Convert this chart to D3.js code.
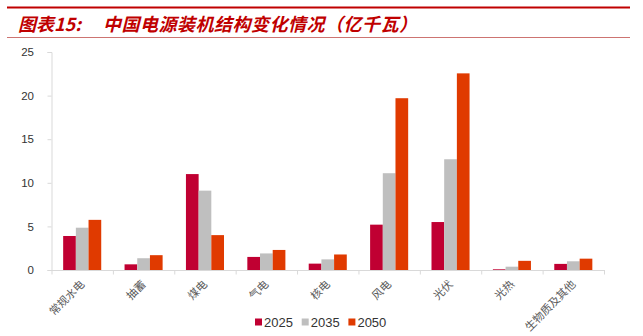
<!DOCTYPE html>
<html>
<head>
<meta charset="utf-8">
<script src="https://cdn.jsdelivr.net/npm/d3@7"></script>
<style>
  html, body { margin: 0; padding: 0; background: #fff; }
  svg { display: block; }
</style>
</head>
<body>
<svg id="chart" width="643" height="336"></svg>
<script>
// Installed capacity by source, 亿千瓦
const categories = ["常规水电", "抽蓄", "煤电", "气电", "核电", "风电", "光伏", "光热", "生物质及其他"];
const seriesNames = ["2025", "2035", "2050"];
const values2025 = [3.9, 0.65, 11.0, 1.5, 0.73, 5.2, 5.5, 0.08, 0.7];
const values2035 = [4.85, 1.35, 9.1, 1.9, 1.22, 11.1, 12.7, 0.38, 1.0];
const values2050 = [5.75, 1.7, 4.0, 2.3, 1.78, 19.7, 22.55, 1.05, 1.3];
const yTicks = [0, 5, 10, 15, 20, 25];

const seriesValues = [values2025, values2035, values2050];
const colors = ["#C00032", "#BFBFBF", "#E03A00"];

const svg = d3.select("#chart");

// Header: red rule, title, thin rule
svg.append("line").attr("x1", 7).attr("x2", 630).attr("y1", 7.5).attr("y2", 7.5)
  .attr("stroke", "#C00000").attr("stroke-width", 2.2);
svg.append("line").attr("x1", 7).attr("x2", 630).attr("y1", 37.5).attr("y2", 37.5)
  .attr("stroke", "#C0504D").attr("stroke-width", 0.8);

const title = svg.append("text")
  .attr("y", 30.5)
  .attr("fill", "#C00000")
  .attr("font-family", "'Noto Sans CJK SC', sans-serif")
  .attr("font-weight", "bold")
  .attr("font-style", "italic")
  .attr("font-size", 18);
title.append("tspan").attr("x", 18).text("图表15:");
title.append("tspan").attr("x", 103).attr("letter-spacing", 0.5).text("中国电源装机结构变化情况（亿千瓦）");

// Plot area
const x0 = 51.5, x1 = 604, yBase = 270, yTop = 52;

const x = d3.scaleBand().domain(categories).range([x0, x1]).paddingInner(0).paddingOuter(0);
const groupW = x.bandwidth() * 0.62;
const xs = d3.scaleBand().domain(seriesNames).range([0, groupW]).padding(0);
const y = d3.scaleLinear().domain([0, 25]).range([yBase, yTop]);

const axisColor = "#D9D9D9";

// Y axis
const yAxis = svg.append("g").attr("transform", `translate(${x0},0)`)
  .call(d3.axisLeft(y).tickValues(yTicks).tickSize(4).tickPadding(13.5).tickFormat(d3.format("d")));
yAxis.select(".domain").attr("stroke", axisColor);
yAxis.selectAll(".tick line").attr("stroke", axisColor);
yAxis.selectAll(".tick text")
  .attr("fill", "#333")
  .attr("font-family", "Arial, 'Liberation Sans', sans-serif")
  .attr("font-size", 11.5);

// Bars
const groups = svg.append("g").selectAll("g")
  .data(categories)
  .join("g")
  .attr("transform", d => `translate(${x(d) + (x.bandwidth() - groupW) / 2},0)`);

groups.selectAll("rect")
  .data((d, i) => seriesNames.map((s, k) => ({ s, v: seriesValues[k][i], k })))
  .join("rect")
  .attr("x", d => xs(d.s))
  .attr("width", xs.bandwidth())
  .attr("y", d => y(d.v))
  .attr("height", d => yBase - y(d.v))
  .attr("fill", d => colors[d.k]);

// X axis with ticks at category boundaries
const xAxis = svg.append("g");
xAxis.append("line").attr("x1", x0).attr("x2", x1).attr("y1", yBase + 0.5).attr("y2", yBase + 0.5)
  .attr("stroke", axisColor);
const bounds = categories.map(c => x(c)).concat([x1]);
xAxis.selectAll("line.tk").data(bounds).join("line").attr("class", "tk")
  .attr("x1", d => d + 0.5).attr("x2", d => d + 0.5)
  .attr("y1", yBase).attr("y2", yBase + 4.5)
  .attr("stroke", axisColor);

// Rotated category labels
svg.append("g").selectAll("text")
  .data(categories)
  .join("text")
  .attr("transform", d => `translate(${x(d) + x.bandwidth() / 2 + 3},285) rotate(-45)`)
  .attr("text-anchor", "end")
  .attr("fill", "#5a5a5a")
  .attr("font-family", "'Noto Sans CJK SC', sans-serif")
  .attr("font-size", 11)
  .text(d => d);

// Legend
const legend = svg.append("g").selectAll("g")
  .data(seriesNames)
  .join("g")
  .attr("transform", (d, i) => `translate(${255 + i * 46.7},318.5)`);
legend.append("rect").attr("width", 7).attr("height", 7).attr("fill", (d, i) => colors[i]);
legend.append("text")
  .attr("x", 9).attr("y", 8)
  .attr("fill", "#333")
  .attr("font-family", "Arial, 'Liberation Sans', sans-serif")
  .attr("font-size", 13)
  .text(d => d);
</script>
</body>
</html>
